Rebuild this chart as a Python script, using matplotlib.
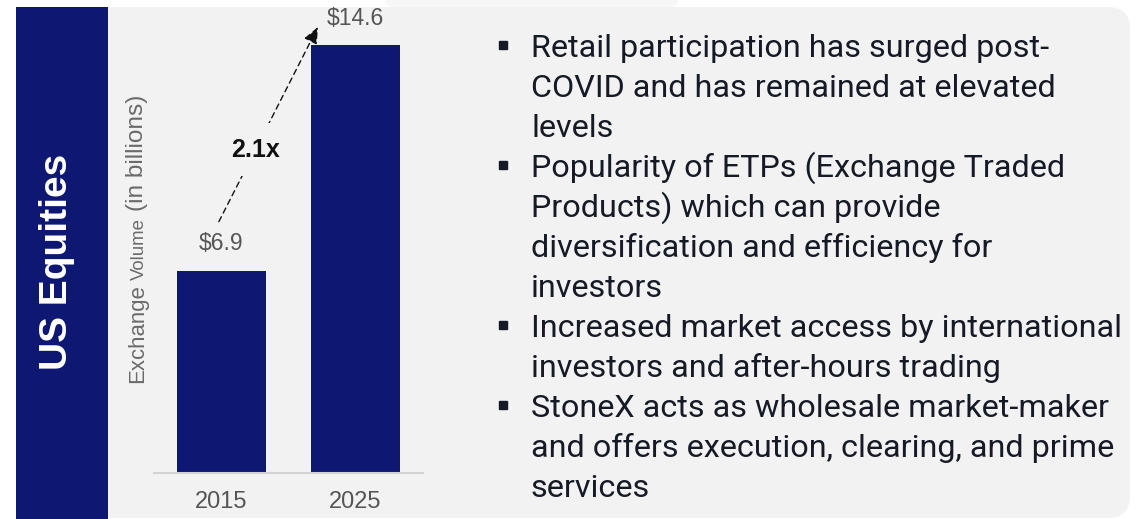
"""US equities exchange volume panel."""

import matplotlib

matplotlib.use("Agg")

import matplotlib.pyplot as plt
import numpy as np
from matplotlib.patches import FancyBboxPatch, Rectangle

years = ["2015", "2025"]
volumes = [6.9, 14.6]
panel_title = "US Equities"
ylabel_parts = ["Exchange", "Volume", "(in billions)"]
bullets = [
    ["Retail participation has surged post-",
     "COVID and has remained at elevated",
     "levels"],
    ["Popularity of ETPs (Exchange Traded",
     "Products) which can provide",
     "diversification and efficiency for",
     "investors"],
    ["Increased market access by international",
     "investors and after-hours trading"],
    ["StoneX acts as wholesale market-maker",
     "and offers execution, clearing, and prime",
     "services"],
]

NAVY = "#0e1772"
PANEL = "#f2f2f2"
GREY_TXT = "#555555"
INK = "#151a26"
W, H = 1139, 519

plt.rcParams["font.family"] = ["Liberation Sans", "DejaVu Sans"]

fig = plt.figure(figsize=(W / 100, H / 100), dpi=100)
fig.patch.set_facecolor("white")

# background layer in pixel coordinates
bg = fig.add_axes([0, 0, 1, 1], zorder=0)
bg.set_xlim(0, W)
bg.set_ylim(H, 0)
bg.axis("off")
bg.add_patch(FancyBboxPatch((385, -10), 293, 17, boxstyle="round,pad=0,rounding_size=8",
                            facecolor="#f7f7f7", edgecolor="none"))
bg.add_patch(FancyBboxPatch((60, 7), 1130 - 60, 511, boxstyle="round,pad=0,rounding_size=22",
                            facecolor=PANEL, edgecolor="none"))
bg.add_patch(Rectangle((16, 7), 92, 512, facecolor=NAVY, edgecolor="none"))
bg.text(57, 262, panel_title, rotation=90, ha="center", va="center", color="white",
        fontsize=28, fontweight="bold")

fig.canvas.draw()
renderer = fig.canvas.get_renderer()


def fit_size(text, target, base=20, **kw):
    probe = bg.text(0, 0, text, fontsize=base, **kw)
    width = probe.get_window_extent(renderer).width
    probe.remove()
    return base * target / width


# y label built from pieces of different size, reading bottom to top
piece_len = [98, 62, 117]
piece_gap = [5, 7]
y_start = 383
for i, (label, length) in enumerate(zip(ylabel_parts, piece_len)):
    size = fit_size(label, length)
    bg.text(143.5, y_start, label, rotation=90, rotation_mode="anchor",
            ha="left", va="baseline", fontsize=size, color="#6a6a6a")
    if i < len(piece_gap):
        y_start -= length + piece_gap[i]

# bars
ax = fig.add_axes([154 / W, 46.3 / H, 269 / W, 465.7 / H], zorder=1)
ax.patch.set_alpha(0)
x = np.arange(len(years))
ax.bar(x, volumes, width=0.664, color=NAVY)
ax.set_xlim(-0.504, 1.504)
ax.set_ylim(0, 15.9)
for side in ("left", "right", "top"):
    ax.spines[side].set_visible(False)
ax.spines["bottom"].set_color("#d3d3d3")
ax.spines["bottom"].set_linewidth(1.5)
ax.set_yticks([])
ax.set_xticks(x, years)
ax.tick_params(axis="x", length=0, pad=13, labelsize=17, labelcolor=GREY_TXT)

for xi, v in zip(x, volumes):
    ax.annotate(f"${v:.1f}", (xi, v), xytext=(0, 19.4), textcoords="offset points",
                ha="center", va="center", fontsize=16.5, color=GREY_TXT)

# growth arrow between the bars
start = np.array([x[0] - 0.02, volumes[0] + 1.67])
end = np.array([x[1] - 0.28, volumes[1] + 0.62])
ax.annotate("", xy=end, xytext=start, annotation_clip=False,
            arrowprops=dict(arrowstyle="-|>,head_length=0.4,head_width=0.17",
                            mutation_scale=25, color="#111111", lw=1.0,
                            linestyle=(0, (4, 3)), shrinkA=0, shrinkB=0))
mid = start + 0.37 * (end - start)
ax.text(mid[0], mid[1], f"{volumes[1] / volumes[0]:.1f}x", ha="center", va="center",
        fontsize=18, fontweight="bold", color="#111111", zorder=5,
        bbox=dict(boxstyle="square,pad=0.58", facecolor=PANEL, edgecolor="none"))

# bullet text, fitted to the widest line
body_font = ["Roboto", "DejaVu Sans"]
size = fit_size("Increased market access by international", 589, family=body_font)

row = 0
for item in bullets:
    bg.plot(503, 45 + 40 * row, marker="s", markersize=6.3, color=INK, linestyle="none")
    for line in item:
        bg.text(531, 57 + 40 * row, line, ha="left", va="baseline", fontsize=size,
                color=INK, family=body_font)
        row += 1

fig.savefig("out.png", dpi=100)
plt.close(fig)
